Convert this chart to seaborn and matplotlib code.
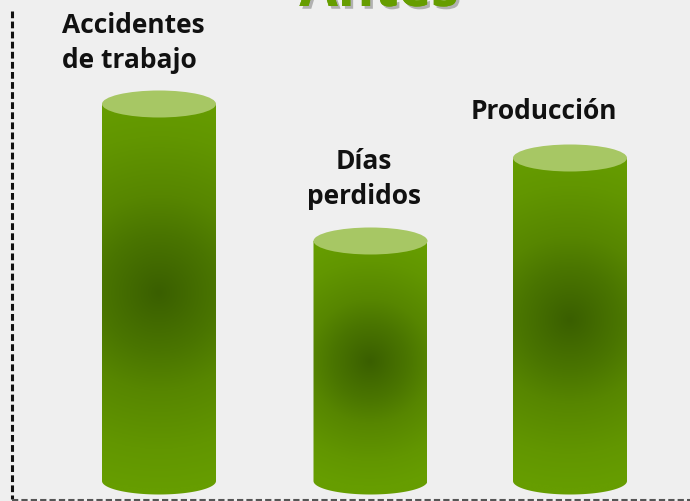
import numpy as np
import pandas as pd
import matplotlib
matplotlib.use("Agg")
import matplotlib.pyplot as plt
import matplotlib.patheffects as pe
from matplotlib.colors import LinearSegmentedColormap
from matplotlib.patches import Ellipse, PathPatch
from matplotlib.path import Path
import seaborn as sns

categories = ["Accidentes\nde trabajo", "Días\nperdidos", "Producción"]
values = [377, 240, 323]
title = "Antes"

BG = "#efefef"
W, H = 690, 502
sns.set_theme(style="white")
plt.rcParams["font.family"] = ["Open Sans", "DejaVu Sans"]

fig = plt.figure(figsize=(6.9, 5.02), dpi=100, facecolor=BG)
ax = fig.add_axes([0, 0, 1, 1])
df = pd.DataFrame({"cat": categories, "val": values})
unit = 205.5
sns.barplot(data=df, x="cat", y="val", order=categories, width=114 / unit,
            color="#669d00", saturation=1, ax=ax, errorbar=None)
xlim = (-159 / unit, (W - 159) / unit)
ylim = (-20, 482)

ax.set_facecolor(BG)
ax.set_axis_off()

nudges = [0, 6 / unit, 0]
label_pos = [(62, 68, "left"), (364, 204, "center"), (544, 119, "center")]
ell_h = 27
cmap = LinearSegmentedColormap.from_list(
    "g", [(0, "#3a5f00"), (0.3, "#4a7500"), (0.5, "#578600"), (0.8, "#629600"), (1, "#669d00")])
top_col = "#a7c764"

for p, nudge, name, v, (lx, ly, ha) in zip(ax.patches, nudges, categories, values, label_pos):
    p.set_x(p.get_x() + nudge)
    x0, w = p.get_x(), p.get_width()
    cx = x0 + w / 2
    p.set_visible(False)
    ys = np.linspace(-ell_h / 2, v, 300)
    xs = np.linspace(x0, x0 + w, 120)
    X, Y = np.meshgrid(xs, ys)
    r = np.hypot((X - cx) * unit, Y - v * 0.5) / (v * 0.52)
    im = ax.imshow(np.clip(r, 0, 1), extent=(x0, x0 + w, -ell_h / 2, v), origin="lower",
                   cmap=cmap, vmin=0, vmax=1, aspect="auto", zorder=2, interpolation="bilinear")
    t = np.linspace(np.pi, 2 * np.pi, 60)
    bx = cx + w / 2 * np.cos(t)
    by = ell_h / 2 * np.sin(t)
    verts = [(x0, v)] + list(zip(bx, by)) + [(x0 + w, v), (x0, v)]
    clip = PathPatch(Path(verts), transform=ax.transData, fc="none", ec="none")
    ax.add_patch(clip)
    im.set_clip_path(clip)
    ax.add_patch(Ellipse((cx, v), w, ell_h, fc=top_col, ec="none", zorder=3))
    fig.text(lx / W, 1 - ly / H, name, ha=ha, va="baseline", multialignment=ha,
             fontsize=19, fontweight="bold", color="#111111", linespacing=1.37, zorder=4)

ax.set_xlim(*xlim)
ax.set_ylim(*ylim)

fig.text(379 / W, 1 - 7 / H, title, ha="center", va="baseline", fontsize=40, fontweight="bold",
         color="#669d00",
         path_effects=[pe.withSimplePatchShadow(offset=(2, -2), shadow_rgbFace="#555555", alpha=0.4),
                       pe.Normal()])
fig.add_artist(plt.Line2D([11.5 / W, 11.5 / W], [1 - 12 / H, 1 - 500 / H], color="#111111",
                          lw=2.2, ls=(0, (2.2, 1.1))))
fig.add_artist(plt.Line2D([11.5 / W, 1], [1 - 501 / H, 1 - 501 / H], color="#555555",
                          lw=1.5, ls=(0, (3, 1.5))))

fig.savefig("out.png", dpi=100, facecolor=BG)
